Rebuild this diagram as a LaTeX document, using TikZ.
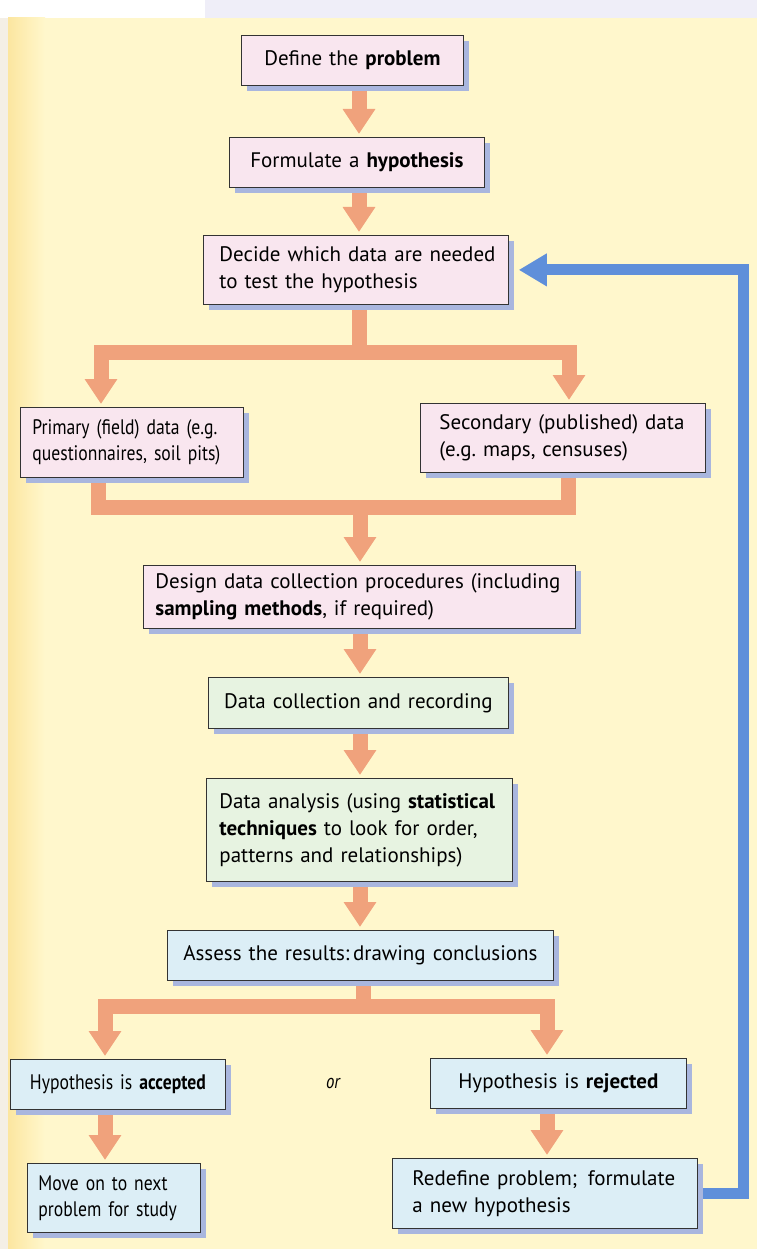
\documentclass[tikz,border=0pt]{standalone}
\usepackage{fontspec}
\setmainfont{PT Sans}
\newfontfamily\condfont[FakeStretch=0.84]{PT Sans}
\usetikzlibrary{arrows.meta,shadows}
\frenchspacing

\definecolor{paper}{HTML}{FFF7CC}
\definecolor{papedge}{HTML}{FCE6A0}
\definecolor{margin}{HTML}{F4EFE6}
\definecolor{topband}{HTML}{EFEEF8}
\definecolor{boxpink}{HTML}{F9E6EF}
\definecolor{boxgreen}{HTML}{E7F3E1}
\definecolor{boxblue}{HTML}{DCEEF6}
\definecolor{shadowblue}{HTML}{A9B6DE}
\definecolor{flowsalmon}{HTML}{F0A27C}
\definecolor{loopblue}{HTML}{5F8FDA}

\pgfdeclarelayer{paperlayer}
\pgfdeclarelayer{linklayer}
\pgfsetlayers{paperlayer,linklayer,main}

\tikzset{
  basebox/.style={draw=black!80, line width=0.8pt, anchor=north west,
    inner ysep=0pt, align=left,
    font=\fontsize{21}{27}\selectfont,
    drop shadow={shadow xshift=6pt, shadow yshift=-6pt, fill=shadowblue, opacity=1}},
  pinkbox/.style={basebox, fill=boxpink},
  greenbox/.style={basebox, fill=boxgreen},
  bluebox/.style={basebox, fill=boxblue},
  narrow/.style={font=\condfont\fontsize{21}{26}\selectfont},
  flowlink/.style={draw=flowsalmon, line width=15pt},
  flowarrow/.style={flowlink, -{Triangle[width=31pt,length=25pt]}, shorten >=3pt},
  looparrow/.style={draw=loopblue, line width=11pt,
    -{Triangle[width=31pt,length=28pt]}}
}

\begin{document}
\begin{tikzpicture}[x=1pt, y=-1pt]
\useasboundingbox (0,0) rectangle (757,1249);

% page background
\begin{pgfonlayer}{paperlayer}
  \fill[margin] (0,0) rectangle (757,1249);
  \fill[white] (0,0) rectangle (205,18);
  \fill[topband] (205,0) rectangle (757,18);
  \fill[paper] (8,18) rectangle (757,1249);
  \shade[left color=papedge, right color=paper] (8,18) rectangle (45,1249);
\end{pgfonlayer}

% boxes
\node[pinkbox, text width=190pt, inner xsep=16pt, minimum height=50pt, align=center]
  (define) at (241,35) {Define the \textbf{problem}};
\node[pinkbox, text width=227pt, inner xsep=14pt, minimum height=50pt, align=center]
  (formulate) at (229,137) {Formulate a \textbf{hypothesis}};
\node[pinkbox, text width=281pt, inner xsep=12pt, minimum height=69pt]
  (decide) at (203,235) {\hspace*{4pt}Decide which data are needed\\\hspace*{4pt}to test the hypothesis};
\node[pinkbox, narrow, text width=199pt, inner xsep=12pt, minimum height=70pt]
  (primary) at (20,407) {Primary (field) data (e.g.\\questionnaires, soil pits)};
\node[pinkbox, text width=247pt, inner xsep=19pt, minimum height=69pt]
  (secondary) at (420,403) {Secondary (published) data\\(e.g. maps, censuses)};
\node[pinkbox, text width=408pt, inner xsep=12pt, minimum height=63pt]
  (design) at (143,565) {Design data collection procedures (including\\\textbf{sampling methods}, if required)};
\node[greenbox, text width=272pt, inner xsep=14pt, minimum height=51pt, align=center]
  (collect) at (208,677) {Data collection and recording};
\node[greenbox, text width=280pt, inner xsep=13pt, minimum height=103pt]
  (analyse) at (206,778) {Data analysis (using \textbf{statistical}\\\textbf{techniques} to look for order,\\patterns and relationships)};
\node[bluebox, text width=362pt, inner xsep=12pt, minimum height=50pt, align=center]
  (assess) at (167,930) {Assess the results:\,drawing conclusions};
\node[bluebox, narrow, text width=203pt, inner xsep=6pt, minimum height=50pt, align=center]
  (accepted) at (10,1059) {Hypothesis is \textbf{accepted}};
\node[bluebox, text width=236pt, inner xsep=10pt, minimum height=50pt, align=center]
  (rejected) at (430,1058) {Hypothesis is \textbf{rejected}};
\node[bluebox, narrow, text width=151pt, inner xsep=11pt, minimum height=69pt]
  (moveon) at (27,1163) {Move on to next\\problem for study};
\node[bluebox, text width=265pt, inner xsep=20pt, minimum height=70pt]
  (redefine) at (392,1158) {Redefine problem;\enspace formulate\\a new hypothesis};

\node[font=\condfont\itshape\fontsize{20}{24}\selectfont] (or) at (333,1083) {or};

% shaft lines and junctions
\coordinate (spine) at (359,0);
\coordinate (splitA) at (359,352);
\coordinate (leftA) at (101,352);
\coordinate (rightA) at (569,352);
\coordinate (mergeB) at (360,507);
\coordinate (leftB) at (98,507);
\coordinate (rightB) at (568,507);
\coordinate (splitC) at (363,1006);
\coordinate (leftC) at (105,1006);
\coordinate (rightC) at (547,1006);
\coordinate (loopx) at (743,0);

\begin{pgfonlayer}{linklayer}
  \draw[flowarrow] (define.south -| spine) -- (formulate.north -| spine);
  \draw[flowarrow] (formulate.south -| spine) -- (decide.north -| spine);

  \draw[flowlink] (decide.south -| splitA) -- (splitA);
  \draw[flowarrow] (splitA) -| (primary.north -| leftA);
  \draw[flowarrow] (splitA) -| (secondary.north -| rightA);

  \draw[flowlink] (primary.south -| leftB) |- (mergeB);
  \draw[flowlink] (secondary.south -| rightB) |- (mergeB);
  \draw[flowarrow] ([yshift=-7.5pt]mergeB) -- (design.north -| mergeB);

  \draw[flowarrow] (design.south -| mergeB) -- (collect.north -| mergeB);
  \draw[flowarrow] (collect.south -| mergeB) -- (analyse.north -| mergeB);
  \draw[flowarrow] (analyse.south -| mergeB) -- (assess.north -| mergeB);

  \draw[flowlink] (assess.south -| splitC) -- (splitC);
  \draw[flowarrow] (splitC) -| (accepted.north -| leftC);
  \draw[flowarrow] (splitC) -| (rejected.north -| rightC);

  \draw[flowarrow] (accepted.south -| leftC) -- (moveon.north -| leftC);
  \draw[flowarrow] (rejected.south -| rightC) -- (redefine.north -| rightC);

  \draw[looparrow, shorten >=10pt] (redefine.east) -| (decide.east -| loopx) -- (decide.east);
\end{pgfonlayer}
\end{tikzpicture}
\end{document}
